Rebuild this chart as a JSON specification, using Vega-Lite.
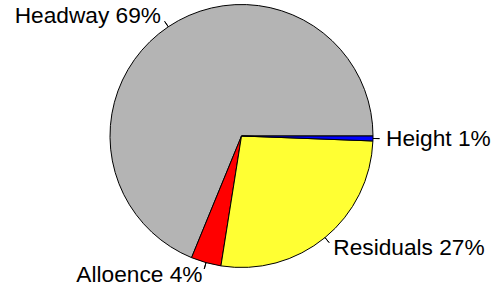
{
  "$schema": "https://vega.github.io/schema/vega-lite/v6.json",
  "width": 483,
  "height": 272,
  "autosize": {"type": "none"},
  "padding": {"left": 0, "top": 0, "right": 12, "bottom": 20},
  "background": "white",
  "data": {
    "values": [
      {"part": "Headway", "value": 68.8, "label": "Headway 69%", "ord": 1, "side": "L"},
      {"part": "Alloence", "value": 3.7, "label": "Alloence 4%", "ord": 2, "side": "L"},
      {"part": "Residuals", "value": 26.9, "label": "Residuals 27%", "ord": 3, "side": "R"},
      {"part": "Height", "value": 0.6, "label": "Height 1%", "ord": 4, "side": "R"}
    ]
  },
  "encoding": {
    "theta": {"field": "value", "type": "quantitative", "stack": true, "scale": {"range": [1.5707963, -4.712389]}},
    "order": {"field": "ord", "type": "quantitative"}
  },
  "layer": [
    {
      "mark": {"type": "arc", "outerRadius": 131.5, "stroke": "black", "strokeWidth": 1},
      "encoding": {
        "color": {
          "field": "part",
          "type": "nominal",
          "scale": {"domain": ["Headway", "Alloence", "Residuals", "Height"], "range": ["#B4B4B4", "#FF0000", "#FFFF33", "#0000FF"]},
          "legend": null
        }
      }
    },
    {
      "transform": [
        {"stack": "value", "groupby": [], "sort": [{"field": "ord", "order": "ascending"}], "as": ["s0", "s1"]},
        {"calculate": "(datum.s0 + datum.s1) / 2", "as": "mid"}
      ],
      "mark": {"type": "arc", "radius": 138, "radius2": 131.5, "fill": "white", "fillOpacity": 0, "stroke": "black", "strokeWidth": 1},
      "encoding": {
        "theta": {"field": "mid", "type": "quantitative", "stack": null, "scale": {"range": [1.5707963, -4.712389]}},
        "theta2": {"field": "mid"}
      }
    },
    {
      "mark": {"type": "text", "radius": 144.6, "align": "right", "baseline": "middle", "fontSize": 22.7, "font": "Liberation Sans", "color": "black"},
      "encoding": {"text": {"condition": {"test": "datum.side === 'L'", "field": "label"}, "value": ""}}
    },
    {
      "mark": {"type": "text", "radius": 144.6, "align": "left", "baseline": "middle", "fontSize": 22.7, "font": "Liberation Sans", "color": "black"},
      "encoding": {"text": {"condition": {"test": "datum.side === 'R'", "field": "label"}, "value": ""}}
    }
  ]
}
